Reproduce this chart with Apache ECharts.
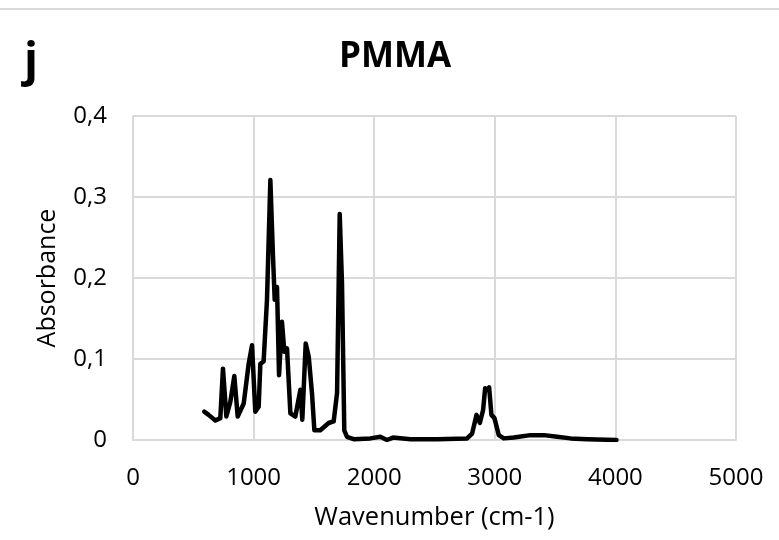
<!DOCTYPE html>
<html>
<head>
    <meta charset="UTF-8">
    <title>PMMA</title>
    <script src="https://cdn.jsdelivr.net/npm/echarts@6/dist/echarts.min.js"></script>
    <style>
      html, body{
        margin: 0;
        padding: 0;
        background: #fff;
      }
      #container{
        width: 779px;
        height: 540px;
      }
    </style>
</head>
<body>
<div id="container"></div>
<script>
    // spectrum: wavenumber (cm-1) / absorbance
    var wavenumber = [591, 627, 683, 724, 746, 774, 807, 840, 868, 918, 959, 987, 1014, 1042, 1056, 1083,
        1111, 1139, 1161, 1175, 1194, 1211, 1235, 1255, 1277, 1305, 1346, 1388, 1404, 1432, 1457, 1484,
        1504, 1553, 1622, 1664, 1692, 1714, 1733, 1752, 1774, 1830, 1968, 2051, 2106, 2156, 2300, 2521,
        2770, 2812, 2848, 2876, 2903, 2920, 2937, 2953, 2972, 2997, 3033, 3075, 3158, 3296, 3407, 3517,
        3628, 3766, 4009]
    var absorbance = [0.035, 0.031, 0.024, 0.027, 0.088, 0.029, 0.047, 0.079, 0.029, 0.045, 0.094, 0.117, 0.035, 0.041, 0.094, 0.097,
        0.173, 0.321, 0.226, 0.173, 0.189, 0.080, 0.146, 0.109, 0.113, 0.033, 0.029, 0.062, 0.025, 0.119, 0.103, 0.058,
        0.012, 0.012, 0.021, 0.023, 0.058, 0.279, 0.193, 0.012, 0.004, 0.001, 0.002, 0.004, 0.000, 0.003, 0.001, 0.001,
        0.002, 0.008, 0.031, 0.021, 0.037, 0.064, 0.062, 0.065, 0.031, 0.027, 0.006, 0.002, 0.003, 0.006, 0.006, 0.004,
        0.002, 0.001, 0.000]
    var xTicks = [0, 1000, 2000, 3000, 4000, 5000]
    var yTicks = [0, 0.1, 0.2, 0.3, 0.4]

    var fontName = '"Open Sans", "Liberation Sans", sans-serif'
    var gridColor = '#d9d9d9'

    var points = []
    for (var i = 0; i < wavenumber.length; i++) {
        points.push([wavenumber[i], absorbance[i]])
    }

    var myChart = echarts.init(document.getElementById('container'), null, {renderer: 'canvas'})
    var option = {
        backgroundColor: '#FFFFFF',
        animation: false,
        title: {
            text: 'PMMA',
            left: 390,
            top: 35,
            textAlign: 'center',
            textStyle: {
                fontFamily: fontName,
                fontSize: 35,
                fontWeight: 'bold',
                color: '#000'
            }
        },
        graphic: [
            {
                type: 'rect',
                shape: {x: 0, y: 8, width: 779, height: 2},
                style: {fill: gridColor}
            },
            {
                type: 'text',
                left: 24,
                top: 40,
                style: {
                    text: 'j',
                    fontFamily: fontName,
                    fontSize: 46,
                    fontWeight: 'bold',
                    fill: '#000'
                }
            }
        ],
        grid: {
            left: 133,
            right: 43,
            top: 116,
            bottom: 100
        },
        xAxis: {
            type: 'value',
            min: xTicks[0],
            max: xTicks[xTicks.length - 1],
            interval: 1000,
            name: 'Wavenumber (cm-1)',
            nameLocation: 'middle',
            nameGap: 65,
            nameTextStyle: {
                fontFamily: fontName,
                fontSize: 25.5,
                color: '#000'
            },
            axisLine: {show: true, lineStyle: {color: gridColor, width: 2}},
            axisTick: {show: false},
            splitLine: {show: true, lineStyle: {color: gridColor, width: 2}},
            axisLabel: {
                margin: 26,
                fontFamily: fontName,
                fontSize: 24,
                color: '#000',
                formatter: function (v) {
                    return String(v)
                }
            }
        },
        yAxis: {
            type: 'value',
            min: yTicks[0],
            max: yTicks[yTicks.length - 1],
            interval: 0.1,
            name: 'Absorbance',
            nameLocation: 'middle',
            nameGap: 73,
            nameTextStyle: {
                fontFamily: fontName,
                fontSize: 25,
                color: '#000'
            },
            axisLine: {show: true, lineStyle: {color: gridColor, width: 2}},
            axisTick: {show: false},
            splitLine: {show: true, lineStyle: {color: gridColor, width: 2}},
            axisLabel: {
                margin: 26,
                fontFamily: fontName,
                fontSize: 24,
                color: '#000',
                formatter: function (v) {
                    return v === 0 ? '0' : v.toFixed(1).replace('.', ',')
                }
            }
        },
        series: [
            {
                type: 'line',
                data: points,
                showSymbol: false,
                symbol: 'none',
                lineStyle: {color: '#000', width: 4.5, join: 'round', cap: 'round'}
            }
        ]
    };
    myChart.setOption(option, true);
</script>
</body>
</html>
